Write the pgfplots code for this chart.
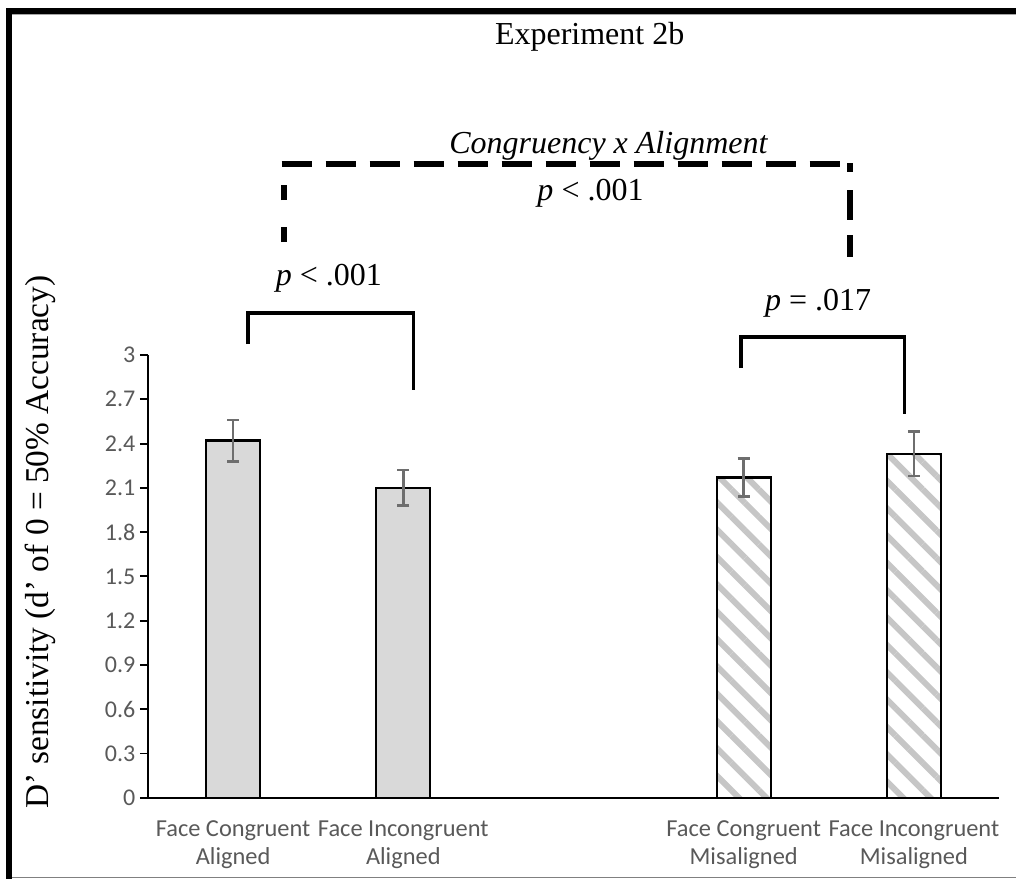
\documentclass[border=0pt]{standalone}
\usepackage{fontspec}
\setmainfont{Liberation Serif}
\newfontfamily\calibri{Carlito}
\usepackage{pgfplots}
\pgfplotsset{compat=1.18}
\usetikzlibrary{patterns.meta}
\definecolor{barfill}{HTML}{D9D9D9}
\definecolor{hatch}{HTML}{C6C6C6}
\definecolor{errgray}{HTML}{6E6E6E}
\definecolor{tickgray}{HTML}{595959}

\begin{document}
\begin{tikzpicture}
\useasboundingbox (0,0) rectangle (762pt,659.25pt);
\begin{scope}[shift={(0pt,659.25pt)},x=0.75pt,y=-0.75pt]
  \fill[black] (6,8) rectangle (12,879);
  \fill[black] (6,8) rectangle (1016,14);
  \draw[gray!70, line width=0.8pt] (12,14.5) -- (1016,14.5);
  \draw[gray, line width=1.2pt] (12,877.5) -- (1016,877.5);
\end{scope}

\begin{axis}[
  at={(111pt,60.975pt)}, anchor=south west,
  scale only axis, width=638.25pt, height=332.0pt,
  xmin=-0.5, xmax=4.5, ymin=0, ymax=3,
  clip=false,
  axis x line*=bottom, axis y line*=left,
  axis line style={black, line width=1.4pt},
  ytick={0,0.3,0.6,0.9,1.2,1.5,1.8,2.1,2.4,2.7,3},
  yticklabels={0,0.3,0.6,0.9,1.2,1.5,1.8,2.1,2.4,2.7,3},
  tick align=outside, major tick length=6pt,
  y tick style={black, line width=1.4pt},
  x tick style={draw=none},
  xtick={0,1,3,4},
  xticklabels={{Face Congruent\\Aligned},{Face Incongruent\\Aligned},{Face Congruent\\Misaligned},{Face Incongruent\\Misaligned}},
  xticklabel style={align=center, font=\calibri\fontsize{18.3}{21}\selectfont, text=tickgray, yshift=-8pt},
  yticklabel style={font=\calibri\fontsize{18}{20}\selectfont, text=tickgray},
  /pgf/number format/assume math mode=true,
  title={Experiment 2b},
  title style={font=\fontsize{24}{28}\selectfont, at={(axis description cs:0.519,1.70)}, anchor=center},
  ylabel={D’ sensitivity (d’ of 0 = 50\% Accuracy)},
  ylabel style={font=\fontsize{25}{29}\selectfont, at={(axis description cs:-0.127,0.578)}, anchor=center},
]
\addplot[ybar, bar shift=0pt, bar width=40.5pt, draw=black, line width=1.7pt, fill=barfill,
  error bars/.cd, y dir=both, y explicit,
  error bar style={errgray, line width=1.9pt},
  error mark options={rotate=90, errgray, line width=1.9pt, mark size=4.5pt}]
  coordinates {(0,2.42) +- (0,0.14) (1,2.10) +- (0,0.12)};
\addplot[ybar, bar shift=0pt, bar width=40.5pt, draw=black, line width=1.7pt,
  pattern={Lines[angle=-45,distance=14.5pt,line width=4.5pt]}, pattern color=hatch,
  error bars/.cd, y dir=both, y explicit,
  error bar style={errgray, line width=1.9pt},
  error mark options={rotate=90, errgray, line width=1.9pt, mark size=4.5pt}]
  coordinates {(3,2.17) +- (0,0.13) (4,2.33) +- (0,0.15)};

% significance brackets
\draw[line width=2.5pt] (axis cs:0.088,3.074) -- (axis cs:0.088,3.284) -- (axis cs:1.06,3.284) -- (axis cs:1.06,2.762);
\draw[line width=2.5pt] (axis cs:2.984,2.911) -- (axis cs:2.984,3.123) -- (axis cs:3.943,3.123) -- (axis cs:3.943,2.600);
% dashed interaction bracket
\draw[line width=4.5pt, dash pattern=on 22.5pt off 10.5pt] (axis cs:0.285,4.293) -- (axis cs:3.638,4.293);
\draw[line width=4.5pt, dash pattern=on 11.25pt off 20.25pt] (axis cs:0.299,3.765) -- (axis cs:0.299,4.293);
\draw[line width=4.5pt, dash pattern=on 6.75pt off 13.5pt on 22.5pt off 11.25pt on 16.5pt off 30pt] (axis cs:3.625,4.30) -- (axis cs:3.625,3.663);

\node[anchor=base, font=\fontsize{24}{28}\selectfont\itshape] at (axis cs:2.205,4.368) {Congruency x Alignment};
\node[anchor=base, font=\fontsize{24}{28}\selectfont] at (axis cs:2.100,4.049) {\textit{p} < .001};
\node[anchor=base, font=\fontsize{24}{28}\selectfont] at (axis cs:0.563,3.474) {\textit{p} < .001};
\node[anchor=base, font=\fontsize{24}{28}\selectfont] at (axis cs:3.437,3.304) {\textit{p} = .017};
\end{axis}
\end{tikzpicture}
\end{document}
